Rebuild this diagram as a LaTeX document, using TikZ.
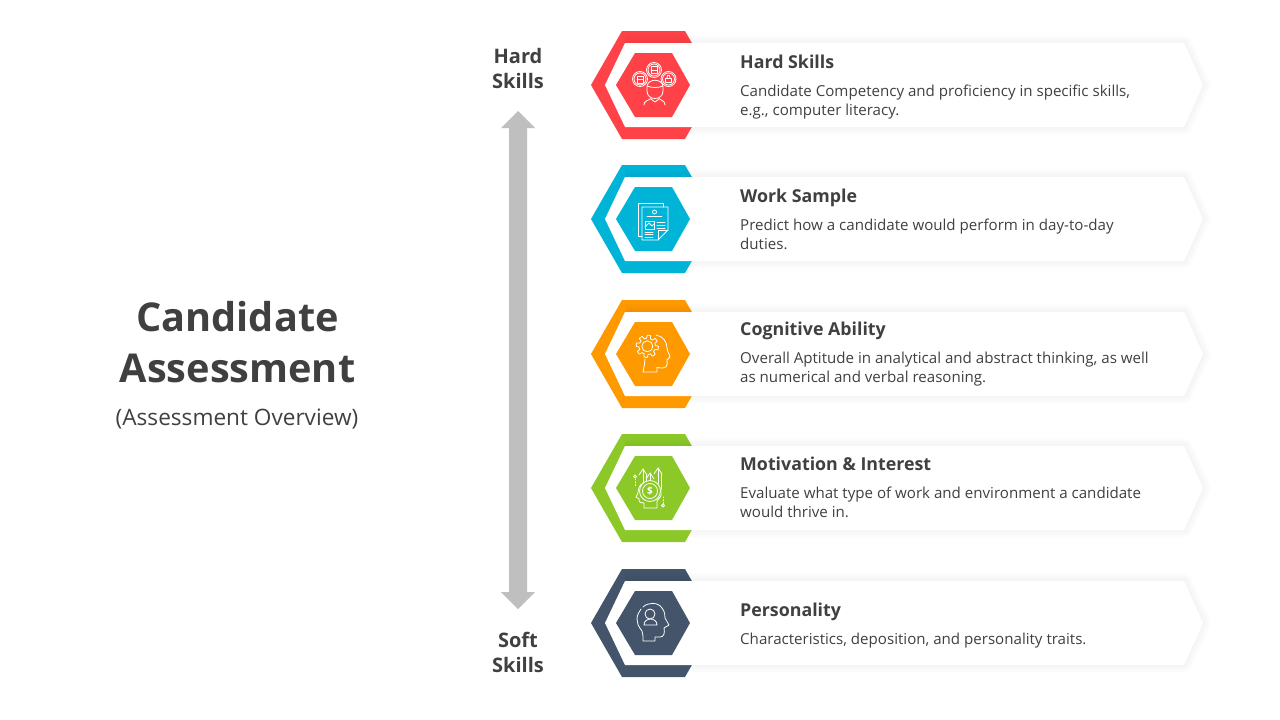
\documentclass[tikz,border=0pt]{standalone}
\usepackage{fontspec}
\setmainfont{Open Sans}
\usetikzlibrary{calc}
\definecolor{inkgray}{HTML}{404040}
\definecolor{arrowgray}{HTML}{BFBFBF}
\definecolor{hardred}{HTML}{FF4247}
\definecolor{workblue}{HTML}{00B4D8}
\definecolor{abilityorange}{HTML}{FF9900}
\definecolor{motivegreen}{HTML}{8CC928}
\definecolor{personnavy}{HTML}{44546A}
\tikzset{
	headline/.style={color=inkgray, font=\fontsize{39.7}{51}\selectfont\bfseries, align=center},
	sidelabel/.style={color=inkgray, font=\fontsize{20}{25}\selectfont\bfseries, align=center},
	cardtitle/.style={color=inkgray, anchor=west, inner sep=0pt, font=\fontsize{17.8}{20}\selectfont\bfseries},
	carddesc/.style={color=inkgray, anchor=west, inner sep=0pt, align=left, font=\fontsize{15.1}{19}\selectfont},
	iconline/.style={draw=white, line width=0.8pt, line join=round, line cap=round}
}
% hexagon, its white card with a soft shadow, and the inner hexagon: (centre y){colour}
\def\skillhex(#1)#2{
	\fill[#2] (591, #1) -- (622, #1-54) -- (685, #1-54) -- (716, #1) -- (685, #1+54) -- (622, #1+54) -- cycle;
	\foreach \w in {16, 13, 10, 7, 4}
		\draw[black, opacity=0.008, line width=\w pt, line join=round] (625, #1-42) -- (1184, #1-42) -- (1203, #1) -- (1184, #1+42) -- (692, #1+42);
	\fill[white] (625, #1-42) -- (1184, #1-42) -- (1203, #1) -- (1184, #1+42) -- (625, #1+42) -- (605, #1) -- cycle;
	\fill[#2] (616, #1) -- (635, #1-32) -- (672, #1-32) -- (690, #1) -- (672, #1+32) -- (635, #1+32) -- cycle;
}

\begin{document}
\begin{tikzpicture}[x=1pt, y=-1pt]
	%%%%% START %%%%%
	\useasboundingbox (0, 0) rectangle (1280, 720);
	\fill[white] (0, 0) rectangle (1280, 720);

	\node[headline] (title) at (237.5, 342) {Candidate\\Assessment};
	\node[color=inkgray, font=\fontsize{22.6}{26}\selectfont] (subtitle) at (237, 419) {(Assessment Overview)};

	\node[sidelabel] (hardlabel) at (518, 68) {Hard\\Skills};
	\node[sidelabel] (softlabel) at (518, 652) {Soft\\Skills};
	\fill[arrowgray] (518, 111) -- (535, 128) -- (527, 128) -- (527, 592) -- (535, 592) -- (518, 609)
		-- (501, 592) -- (509, 592) -- (509, 128) -- (501, 128) -- cycle;

	\skillhex(85){hardred}
	\skillhex(219){workblue}
	\skillhex(354){abilityorange}
	\skillhex(488){motivegreen}
	\skillhex(623){personnavy}

	\node[cardtitle] (hardtitle) at (740, 64) {\strut Hard Skills};
	\node[carddesc] (harddesc) at (740, 101.7) {\strut Candidate Competency and proficiency in specific skills,\\\strut e.g., computer literacy.};
	\node[cardtitle] (worktitle) at (740, 198) {\strut Work Sample};
	\node[carddesc] (workdesc) at (740, 235.7) {\strut Predict how a candidate would perform in day-to-day\\\strut duties.};
	\node[cardtitle] (abilitytitle) at (740, 331) {\strut Cognitive Ability};
	\node[carddesc] (abilitydesc) at (740, 368.7) {\strut Overall Aptitude in analytical and abstract thinking, as well\\\strut as numerical and verbal reasoning.};
	\node[cardtitle] (motivetitle) at (740, 466) {\strut Motivation \& Interest};
	\node[carddesc] (motivedesc) at (740, 503.7) {\strut Evaluate what type of work and environment a candidate\\\strut would thrive in.};
	\node[cardtitle] (persontitle) at (740, 612) {\strut Personality};
	\node[carddesc] (persondesc) at (740, 641) {\strut Characteristics, deposition, and personality traits.};

	% people and skills icon
	\begin{scope}[shift={(653, 85)}, iconline]
		\draw (-13, -6) circle (7.5);
		\draw (-13, -6) circle (6);
		\draw (1, -15) circle (7.5);
		\draw (1, -15) circle (6);
		\draw (15.5, -6) circle (7.5);
		\draw (15.5, -6) circle (6);
		\draw (-16, -9) rectangle (-10, -2);
		\draw (-16, -6) -- (-10, -6);
		\draw (-2, -18.5) rectangle (4, -11.5);
		\draw (-2, -15) -- (4, -15);
		\draw (12.5, -7) rectangle (18.5, -3);
		\draw (14, -7) -- (14.5, -9.5) -- (16.5, -9.5) -- (17, -7);
		\draw (-6, 2) .. controls (-6, -7) and (10, -7) .. (10, 2) -- (10, 6) .. controls (10, 16) and (-6, 16) .. (-6, 6) -- cycle;
		\draw (-6, 1) .. controls (-1, 3) and (5, 3) .. (10, 1);
		\draw (-9, 20) .. controls (-9, 16) and (-6, 16) .. (-2, 13.5);
		\draw (12, 20) .. controls (12, 16) and (9, 16) .. (6, 13.5);
		\draw (-2, 14) -- (2, 17) -- (6, 14);
	\end{scope}

	% documents icon
	\begin{scope}[shift={(653, 219)}, iconline]
		\draw (-11, 17) -- (-15, 17) -- (-15, -16) -- (10, -16) -- (10, -12);
		\draw (5, 21) -- (-11, 21) -- (-11, -12) -- (15, -12) -- (15, 11) -- cycle;
		\draw (5, 21) -- (5, 11) -- (15, 11);
		\draw (1.5, -7) circle (2);
		\draw (-6, -3) -- (9, -3);
		\draw (-8, 2) rectangle (1, 10);
		\draw (-8, 8) -- (-4, 4) -- (-1, 7) -- (1, 5);
		\foreach \y in {3, 6, 9}
			\draw (4, \y) -- (12, \y);
		\foreach \y in {13, 15.5, 18}
			\draw (-8, \y) -- (0, \y);
	\end{scope}

	% gear head icon
	\begin{scope}[shift={(653, 354)}, iconline]
		\draw[domain=0:360, samples=145, variable=\t] plot ({-5.7+(9.6+1.5*sign(sin(8*\t+20)))*cos(\t)}, {-7.7+(9.6+1.5*sign(sin(8*\t+20)))*sin(\t)}) -- cycle;
		\draw (-5.7, -7.7) circle (5.5);
		\draw (3, -19) .. controls (10, -18) and (14, -12) .. (14, -6) .. controls (14, -3) and (17, 1) .. (17, 3)
			.. controls (16, 5) and (14, 5) .. (14, 6) .. controls (15, 12) and (13, 14) .. (9, 14)
			-- (4, 13.5) -- (4, 18) -- (-10, 18) .. controls (-9, 12) and (-8, 9) .. (-8, 5);
	\end{scope}

	% money head icon
	\begin{scope}[shift={(653, 488)}, iconline]
		\draw (-3, 3) circle (7.5);
		\draw (-3, 3) circle (10.5);
		\node[color=white, font=\fontsize{10}{10}\selectfont\bfseries, inner sep=0pt] (dollar) at (-3, 3) {\$};
		% three arrows
		\draw (-14, -13) -- (-10, -19) -- (-6, -13);
		\draw (-7, -9) -- (-3, -15) -- (1, -9);
		\draw (1, -14) -- (5, -20) -- (9, -14);
		\draw (-10, -19) -- (-10, -5);
		\draw (-7, -13) -- (-7, -6.5);
		\draw (-3, -15) -- (-3, -7.5);
		\draw (5, -20) -- (5, -4.5);
		\draw (8, -14) -- (8, 1);
		% head
		\draw (-10, -5) .. controls (-14, -3) and (-15, 2) .. (-15, 5) -- (-17, 9) -- (-14, 11)
			.. controls (-14, 15) and (-12, 15) .. (-9, 15) -- (-9, 20) -- (4, 20) -- (4, 13) -- (8, 8) -- (8, 1);
		% dotted stems with their diamonds
		\draw[dotted] (-18, -9) -- (-18, -2);
		\draw (-18, -13) -- (-16.5, -11.5) -- (-18, -10) -- (-19.5, -11.5) -- cycle;
		\draw[dotted] (10, 9) -- (10, 16);
		\draw (10, 16) -- (11.5, 17.5) -- (10, 19) -- (8.5, 17.5) -- cycle;
	\end{scope}

	% person head icon
	\begin{scope}[shift={(653, 623)}, iconline]
		\draw (-10, -16) .. controls (-5, -21) and (5, -21) .. (9, -15) .. controls (12, -11) and (12, -8) .. (12, -5)
			-- (16, 2) -- (11, 5) .. controls (12, 10) and (11, 14) .. (7, 14) -- (2, 14) -- (2, 18) -- (-10, 18)
			.. controls (-10, 13) and (-10, 11) .. (-11, 8) .. controls (-15, 3) and (-16, 0) .. (-16, -4)
			.. controls (-16, -8) and (-14, -11) .. (-12, -14);
		\draw (-3, -9) circle (5);
		\draw (-9, 2) .. controls (-9, -6) and (4, -6) .. (4, 2) -- cycle;
	\end{scope}
	%%%%% END %%%%%
\end{tikzpicture}
\end{document}
